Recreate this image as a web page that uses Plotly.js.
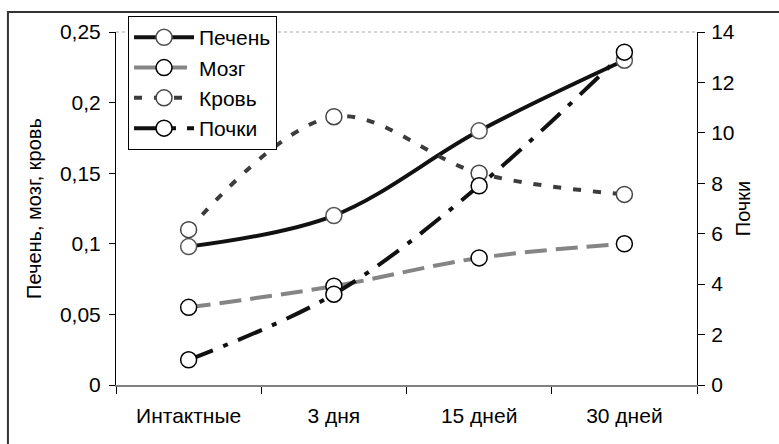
<!DOCTYPE html>
<html>
<head>
<meta charset="utf-8">
<script src="https://cdn.plot.ly/plotly-3.0.1.min.js"></script>
<style>html,body{margin:0;padding:0;background:#fff;}#chart{width:779px;height:444px;}</style>
</head>
<body>
<div id="chart"></div>
<script>
const categories = ['Интактные', '3 дня', '15 дней', '30 дней'];
const liver = [0.098, 0.12, 0.18, 0.23];
const brain = [0.055, 0.07, 0.09, 0.10];
const blood = [0.11, 0.19, 0.15, 0.135];
const kidney = [1.0, 3.6, 7.9, 13.2];
const seriesNames = ['Печень', 'Мозг', 'Кровь', 'Почки'];
const leftTicks = [0, 0.05, 0.1, 0.15, 0.2, 0.25];
const leftTickText = ['0', '0,05', '0,1', '0,15', '0,2', '0,25'];
const rightTicks = [0, 2, 4, 6, 8, 10, 12, 14];

const FONT = 'Liberation Sans, Arial, sans-serif';
const FS = 21;
function mk(color, w) { return {symbol: 'circle', size: 16, color: '#ffffff', line: {color: color, width: w}}; }

const traces = [
  {x: categories, y: liver, name: seriesNames[0], type: 'scatter', mode: 'lines+markers', yaxis: 'y', legendgroup: 'a',
   line: {color: '#111111', width: 4, shape: 'spline', smoothing: 1}, marker: mk('#555555', 1.5)},
  {x: categories, y: brain, name: seriesNames[1], type: 'scatter', mode: 'lines+markers', yaxis: 'y', legendgroup: 'b',
   line: {color: '#858585', width: 4, shape: 'spline', smoothing: 1, dash: '22px,9px'}, marker: mk('#000000', 1.5)},
  {x: categories, y: blood, name: seriesNames[2], type: 'scatter', mode: 'lines+markers', yaxis: 'y', legendgroup: 'c',
   line: {color: '#3c3c3c', width: 4, shape: 'spline', smoothing: 1, dash: '8px,12px'}, marker: mk('#444444', 1.5)},
  {x: categories, y: kidney, name: seriesNames[3], type: 'scatter', mode: 'lines+markers', yaxis: 'y2', legendgroup: 'd',
   line: {color: '#111111', width: 4, shape: 'spline', smoothing: 1, dash: '26px,11px,5px,11px'}, marker: mk('#000000', 1.5)}
];

const layout = {
  width: 779, height: 444,
  margin: {l: 116, r: 82, t: 32, b: 59},
  paper_bgcolor: '#ffffff', plot_bgcolor: '#ffffff',
  font: {family: FONT, size: FS, color: '#000000'},
  showlegend: true,
  legend: {x: 0.0207, y: 1.045, xanchor: 'left', yanchor: 'top', bgcolor: '#ffffff', bordercolor: '#000000', borderwidth: 1,
           font: {family: FONT, size: FS, color: '#000000'}, itemwidth: 60, tracegroupgap: 0, traceorder: 'grouped'},
  xaxis: {type: 'category', range: [-0.5, 3.5], tickson: 'boundaries', ticks: 'outside', ticklen: 7, tickcolor: '#000',
          showline: true, linecolor: '#808080', linewidth: 2, showgrid: false, zeroline: false, fixedrange: true,
          ticklabelstandoff: 11, tickfont: {family: FONT, size: FS}},
  yaxis: {range: [0, 0.25], tickvals: leftTicks, ticktext: leftTickText, ticks: 'outside', ticklen: 6, tickcolor: '#000',
          showline: true, linecolor: '#000', linewidth: 1, showgrid: false, zeroline: false, ticklabelstandoff: 4,
          tickfont: {family: FONT, size: FS},
          title: {text: 'Печень, мозг, кровь', font: {family: FONT, size: 20}, standoff: 12}},
  yaxis2: {overlaying: 'y', side: 'right', range: [0, 14], tickvals: rightTicks, ticks: 'outside', ticklen: 7, tickcolor: '#000',
           showline: true, linecolor: '#000', linewidth: 1, showgrid: false, zeroline: false, ticklabelstandoff: 2,
           tickfont: {family: FONT, size: FS},
           title: {text: 'Почки', font: {family: FONT, size: 20}, standoff: 2}},
  xaxis2: {overlaying: 'x', anchor: 'y', side: 'bottom', range: [-0.5, 3.5], tickvals: [-0.5, 0.5, 1.5, 2.5, 3.5],
           ticks: 'inside', ticklen: 7, tickcolor: '#000', showticklabels: false, showline: false, showgrid: false, zeroline: false},
  yaxis3: {overlaying: 'y', side: 'left', anchor: 'x', range: [0, 0.25], tickvals: leftTicks, ticks: 'inside', ticklen: 7,
           tickcolor: '#000', showticklabels: false, showline: false, showgrid: false, zeroline: false},
  yaxis4: {overlaying: 'y', side: 'right', anchor: 'x', range: [0, 14], tickvals: rightTicks, ticks: 'inside', ticklen: 7,
           tickcolor: '#000', showticklabels: false, showline: false, showgrid: false, zeroline: false},
  shapes: [
    {type: 'line', xref: 'paper', yref: 'paper', x0: 0, x1: 1, y0: 1, y1: 1, line: {color: '#c8c8c8', width: 1.5, dash: 'dot'}, layer: 'below'},
    {type: 'rect', xref: 'paper', yref: 'paper', x0: -0.186, x1: 1.3, y0: -0.3, y1: 1.0567, line: {color: '#333333', width: 2}}
  ]
};

Plotly.newPlot('chart', traces, layout, {staticPlot: true, displayModeBar: false});
</script>
</body>
</html>
